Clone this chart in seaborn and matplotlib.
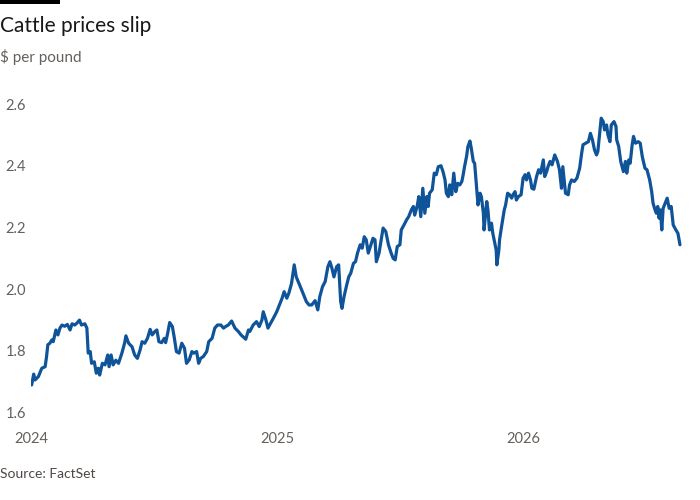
import matplotlib
matplotlib.use("Agg")
import matplotlib.pyplot as plt
import matplotlib.dates as mdates
import seaborn as sns
import pandas as pd

# ---- data ----
dates = [
    "2024-01-02","2024-01-05","2024-01-07","2024-01-12","2024-01-17","2024-01-22","2024-01-24","2024-01-26","2024-01-29","2024-02-01",
    "2024-02-03","2024-02-07","2024-02-10","2024-02-13","2024-02-16","2024-02-20","2024-02-24","2024-02-28","2024-03-02","2024-03-06",
    "2024-03-10","2024-03-13","2024-03-16","2024-03-21","2024-03-24","2024-03-26","2024-03-29","2024-03-31","2024-04-04","2024-04-07",
    "2024-04-10","2024-04-12","2024-04-16","2024-04-20","2024-04-24","2024-04-26","2024-04-29","2024-05-02","2024-05-06","2024-05-10",
    "2024-05-15","2024-05-19","2024-05-21","2024-05-25","2024-05-30","2024-06-03","2024-06-07","2024-06-11","2024-06-14","2024-06-18",
    "2024-06-22","2024-06-26","2024-06-29","2024-07-03","2024-07-06","2024-07-09","2024-07-13","2024-07-17","2024-07-19","2024-07-22",
    "2024-07-25","2024-07-29","2024-08-01","2024-08-04","2024-08-08","2024-08-12","2024-08-16","2024-08-19","2024-08-23","2024-08-27",
    "2024-08-30","2024-09-03","2024-09-06","2024-09-09","2024-09-13","2024-09-18","2024-09-21","2024-09-26","2024-09-30","2024-10-04",
    "2024-10-09","2024-10-13","2024-10-16","2024-10-20","2024-10-25","2024-10-30","2024-11-04","2024-11-08","2024-11-11","2024-11-15",
    "2024-11-19","2024-11-21","2024-11-26","2024-12-01","2024-12-05","2024-12-09","2024-12-11","2024-12-15","2024-12-18","2024-12-22",
    "2024-12-26","2024-12-31","2025-01-05","2025-01-08","2025-01-11","2025-01-15","2025-01-18","2025-01-22","2025-01-26","2025-01-29",
    "2025-02-02","2025-02-06","2025-02-10","2025-02-13","2025-02-17","2025-02-21","2025-02-26","2025-03-02","2025-03-05","2025-03-09",
    "2025-03-13","2025-03-17","2025-03-20","2025-03-23","2025-03-26","2025-03-30","2025-04-02","2025-04-05","2025-04-07","2025-04-10",
    "2025-04-14","2025-04-17","2025-04-20","2025-04-24","2025-04-27",
    "2025-04-30","2025-05-04","2025-05-07","2025-05-10","2025-05-13","2025-05-16","2025-05-20","2025-05-23","2025-05-26","2025-05-28",
    "2025-06-01","2025-06-05","2025-06-07","2025-06-11","2025-06-15","2025-06-19","2025-06-22","2025-06-25","2025-06-28","2025-07-02",
    "2025-07-04","2025-07-08","2025-07-12","2025-07-15","2025-07-19","2025-07-22","2025-07-24","2025-07-28","2025-07-30","2025-08-02",
    "2025-08-05","2025-08-08","2025-08-11","2025-08-13","2025-08-15","2025-08-19","2025-08-22","2025-08-25","2025-08-28","2025-09-01",
    "2025-09-04","2025-09-07","2025-09-09","2025-09-12","2025-09-14","2025-09-17","2025-09-20","2025-09-23","2025-09-26","2025-09-29",
    "2025-10-02","2025-10-04","2025-10-06","2025-10-09","2025-10-11","2025-10-14",
    "2025-10-16","2025-10-19","2025-10-21","2025-10-24","2025-10-26","2025-10-29","2025-10-31","2025-11-03","2025-11-04","2025-11-08",
    "2025-11-10","2025-11-12","2025-11-15","2025-11-17","2025-11-20","2025-11-22","2025-11-23","2025-11-26","2025-11-27","2025-11-30",
    "2025-12-04","2025-12-06","2025-12-09","2025-12-12","2025-12-15","2025-12-17","2025-12-20","2025-12-22","2025-12-25","2025-12-29",
    "2026-01-01","2026-01-04","2026-01-06","2026-01-09","2026-01-12","2026-01-14","2026-01-17","2026-01-21","2026-01-24","2026-01-27",
    "2026-01-31","2026-02-02","2026-02-05","2026-02-07","2026-02-10","2026-02-13","2026-02-17","2026-02-21","2026-02-24","2026-02-27",
    "2026-03-01","2026-03-05","2026-03-09","2026-03-11","2026-03-14","2026-03-18",
    "2026-03-22","2026-03-26","2026-03-29","2026-03-31","2026-04-04","2026-04-08","2026-04-11","2026-04-14","2026-04-17","2026-04-20",
    "2026-04-22","2026-04-25","2026-04-27","2026-04-30","2026-05-02","2026-05-05","2026-05-07","2026-05-10","2026-05-12","2026-05-16",
    "2026-05-19","2026-05-20","2026-05-23","2026-05-26","2026-05-28","2026-05-30","2026-06-02","2026-06-04","2026-06-07","2026-06-09",
    "2026-06-12","2026-06-14","2026-06-17","2026-06-21","2026-06-24","2026-06-27","2026-07-01","2026-07-04","2026-07-08","2026-07-11",
    "2026-07-13","2026-07-16","2026-07-18","2026-07-20","2026-07-22","2026-07-24","2026-07-26","2026-07-28","2026-07-30","2026-08-03",
    "2026-08-06","2026-08-09","2026-08-12","2026-08-16","2026-08-19","2026-08-22",
]

prices = [
    1.69,1.725,1.706,1.717,1.744,1.749,1.78,1.82,1.825,1.836,
    1.83,1.868,1.852,1.874,1.884,1.88,1.886,1.868,1.888,1.884,
    1.892,1.90,1.884,1.888,1.874,1.793,1.798,1.76,1.765,1.728,
    1.744,1.722,1.76,1.755,1.787,1.749,1.787,1.755,1.77,1.76,
    1.793,1.825,1.849,1.825,1.814,1.787,1.776,1.803,1.83,1.825,
    1.841,1.87,1.852,1.863,1.868,1.83,1.827,1.841,1.827,1.857,
    1.892,1.879,1.841,1.798,1.793,1.825,1.809,1.76,1.771,1.798,
    1.793,1.798,1.76,1.776,1.782,1.798,1.83,1.841,1.874,1.884,
    1.884,1.874,1.879,1.884,1.897,1.874,1.863,1.852,1.846,1.838,
    1.868,1.863,1.884,1.895,1.879,1.90,1.927,1.90,1.874,1.89,
    1.906,1.927,1.955,1.971,1.992,1.971,1.987,2.019,2.079,2.04,
    2.019,1.998,1.976,1.96,1.949,1.949,1.963,1.933,1.976,2.008,
    2.025,2.073,2.089,2.068,2.04,2.073,2.079,1.96,1.938,1.976,
    2.014,2.04,2.052,2.084,2.089,
    2.117,2.144,2.133,2.17,2.16,2.117,2.144,2.165,2.16,2.089,
    2.117,2.17,2.198,2.187,2.144,2.117,2.10,2.095,2.138,2.144,
    2.192,2.208,2.225,2.235,2.257,2.268,2.24,2.273,2.30,2.235,
    2.327,2.246,2.30,2.268,2.311,2.322,2.376,2.371,2.397,2.40,
    2.381,2.354,2.311,2.30,2.338,2.306,2.376,2.316,2.343,2.338,
    2.349,2.371,2.397,2.43,2.462,2.48,
    2.457,2.414,2.408,2.327,2.273,2.311,2.30,2.246,2.192,2.284,
    2.252,2.192,2.214,2.181,2.149,2.127,2.079,2.127,2.16,2.203,
    2.257,2.273,2.311,2.306,2.295,2.306,2.316,2.289,2.30,2.306,
    2.36,2.371,2.354,2.376,2.354,2.327,2.324,2.365,2.387,2.376,
    2.419,2.365,2.381,2.397,2.414,2.403,2.435,2.414,2.387,2.327,
    2.397,2.311,2.306,2.338,2.354,2.349,
    2.36,2.392,2.441,2.468,2.473,2.478,2.505,2.484,2.452,2.435,
    2.446,2.511,2.554,2.543,2.516,2.532,2.50,2.478,2.532,2.543,
    2.527,2.484,2.462,2.414,2.397,2.381,2.414,2.376,2.419,2.408,
    2.468,2.495,2.473,2.478,2.473,2.43,2.392,2.387,2.354,2.316,
    2.279,2.257,2.246,2.268,2.23,2.257,2.192,2.262,2.273,2.295,
    2.262,2.268,2.208,2.192,2.181,2.144,
]

y_ticks = [1.6, 1.8, 2.0, 2.2, 2.4, 2.6]
y_tick_labels = ["1.6", "1.8", "2.0", "2.2", "2.4", "2.6"]
x_ticks = ["2024-01-01", "2025-01-01", "2026-01-01"]
x_tick_labels = ["2024", "2025", "2026"]

title = "Cattle prices slip"
subtitle = "$ per pound"
source = "Source: FactSet"

# ---- styling ----
sns.set_theme(style="white")
FONT = ["Lato", "DejaVu Sans"]
plt.rcParams["font.family"] = FONT

LINE = "#0f5499"
GREY = "#66605c"
INK = "#1a1817"

df = pd.DataFrame({"date": pd.to_datetime(dates), "price": prices})

W, H = 700, 500
fig = plt.figure(figsize=(7, 5), dpi=100)
fig.patch.set_facecolor("white")

left_px, right_px = 31, 684
top_px, bottom_px = 104, 412.7
ax = fig.add_axes([left_px / W, 1 - bottom_px / H,
                   (right_px - left_px) / W, (bottom_px - top_px) / H])
ax.set_facecolor("white")

sns.lineplot(data=df, x="date", y="price", ax=ax, color=LINE,
             linewidth=2.3, legend=False)

ax.set_ylim(1.6, 2.6)
ax.set_xlim(pd.Timestamp("2024-01-01"), pd.Timestamp("2026-08-28"))

ax.set_yticks(y_ticks)
ax.set_yticklabels(y_tick_labels)
ax.set_xticks(pd.to_datetime(x_ticks))
ax.set_xticklabels(x_tick_labels)

for s in ax.spines.values():
    s.set_visible(False)
ax.grid(False)
ax.tick_params(axis="both", length=0, labelsize=10.5, labelcolor=GREY)
ax.tick_params(axis="y", pad=18.5)
ax.tick_params(axis="x", pad=14)
for lbl in ax.get_yticklabels():
    lbl.set_horizontalalignment("left")
ax.set_xlabel("")
ax.set_ylabel("")

# header / footer
fig.add_artist(plt.Rectangle((0, 1 - 4 / H), 60 / W, 4 / H,
                             transform=fig.transFigure, color="black", lw=0))
fig.text(0, 1 - 32 / H, title, fontsize=15, color=INK, va="baseline", ha="left")
fig.text(0, 1 - 62 / H, subtitle, fontsize=11, color=GREY, va="baseline", ha="left")
fig.text(0, 1 - 478 / H, source, fontsize=10, color="#4d4845", va="baseline", ha="left")

fig.savefig("out.png", dpi=100, facecolor="white")
